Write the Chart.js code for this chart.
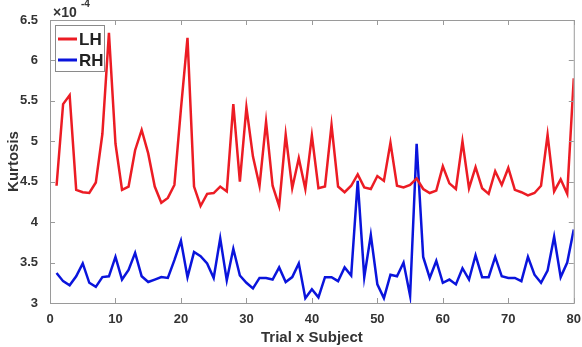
<!DOCTYPE html>
<html>
<head>
<meta charset="utf-8">
<script src="https://cdn.jsdelivr.net/npm/chart.js@4/dist/chart.umd.min.js"></script>
<style>
  html, body { margin: 0; padding: 0; background: #fff; }
  #wrap { width: 582px; height: 347px; position: relative; }
</style>
</head>
<body>
<div id="wrap"><canvas id="kurt"></canvas></div>
<script>
// data (values in units of 1e-4)
const trials = Array.from({ length: 80 }, (_, i) => i + 1);
const lhValues = [
  4.45, 5.46, 5.57, 4.40, 4.37, 4.36, 4.49, 5.09, 6.34, 4.97,
  4.40, 4.44, 4.89, 5.14, 4.85, 4.44, 4.24, 4.30, 4.46, 5.40,
  6.28, 4.44, 4.20, 4.35, 4.36, 4.44, 4.38, 5.46, 4.50, 5.42,
  4.81, 4.45, 5.24, 4.45, 4.20, 5.08, 4.42, 4.79, 4.41, 5.07,
  4.42, 4.44, 5.20, 4.44, 4.37, 4.45, 4.59, 4.43, 4.41, 4.57,
  4.51, 4.98, 4.45, 4.43, 4.46, 4.54, 4.41, 4.36, 4.39, 4.69,
  4.48, 4.41, 5.00, 4.42, 4.68, 4.42, 4.35, 4.63, 4.46, 4.67,
  4.40, 4.37, 4.33, 4.36, 4.45, 5.08, 4.38, 4.53, 4.35, 5.78
];
const rhValues = [
  3.37, 3.27, 3.22, 3.33, 3.49, 3.25, 3.20, 3.32, 3.33, 3.57,
  3.29, 3.41, 3.62, 3.33, 3.26, 3.29, 3.32, 3.31, 3.53, 3.77,
  3.32, 3.63, 3.58, 3.49, 3.31, 3.80, 3.28, 3.67, 3.34, 3.25,
  3.18, 3.31, 3.31, 3.29, 3.44, 3.26, 3.32, 3.49, 3.06, 3.17,
  3.07, 3.32, 3.32, 3.27, 3.44, 3.34, 4.51, 3.32, 3.84, 3.23,
  3.06, 3.35, 3.33, 3.50, 3.09, 4.97, 3.57, 3.31, 3.52, 3.25,
  3.29, 3.23, 3.43, 3.29, 3.59, 3.32, 3.32, 3.57, 3.33, 3.31,
  3.31, 3.27, 3.57, 3.35, 3.25, 3.40, 3.82, 3.32, 3.50, 3.91
];
const xTicks = [0, 10, 20, 30, 40, 50, 60, 70, 80];
const yTicks = [3, 3.5, 4, 4.5, 5, 5.5, 6, 6.5];

const FONT = "'Liberation Sans', Arial, sans-serif";
const TXT = "#333";
const RED = "#ec1c24";
const BLUE = "#0a14dc";

// MATLAB-style box, inward ticks, legend and exponent label
const matlabBox = {
  id: "matlabBox",
  afterDraw(chart) {
    const { ctx, chartArea: a, scales } = chart;
    const xs = scales.x, ys = scales.y;
    ctx.save();
    ctx.strokeStyle = "#9a9a9a";
    ctx.lineWidth = 1;
    ctx.strokeRect(a.left + 0.5, a.top + 0.5, a.right - a.left, a.bottom - a.top);
    ctx.beginPath();
    const tl = 5;
    xTicks.forEach(v => {
      const px = Math.round(xs.getPixelForValue(v)) + 0.5;
      ctx.moveTo(px, a.bottom); ctx.lineTo(px, a.bottom - tl);
      ctx.moveTo(px, a.top); ctx.lineTo(px, a.top + tl);
    });
    yTicks.forEach(v => {
      const py = Math.round(ys.getPixelForValue(v)) + 0.5;
      ctx.moveTo(a.left, py); ctx.lineTo(a.left + tl, py);
      ctx.moveTo(a.right, py); ctx.lineTo(a.right - tl, py);
    });
    ctx.stroke();

    // exponent (top partly cut off as in the original figure)
    ctx.fillStyle = TXT;
    ctx.font = "bold 14px " + FONT;
    ctx.textBaseline = "alphabetic";
    ctx.textAlign = "left";
    ctx.fillText("×10", a.left + 3, a.top - 3);
    ctx.font = "bold 10px " + FONT;
    ctx.fillText("-4", a.left + 31, a.top - 13);

    // legend
    const lx = a.left + 5, ly = a.top + 5, lw = 49, lh = 46;
    ctx.fillStyle = "#fff";
    ctx.fillRect(lx, ly, lw, lh);
    ctx.strokeStyle = "#8a8a8a";
    ctx.strokeRect(lx + 0.5, ly + 0.5, lw, lh);
    ctx.font = "bold 17px " + FONT;
    ctx.textBaseline = "middle";
    chart.data.datasets.forEach((ds, i) => {
      const y = ly + 14 + i * 21;
      ctx.strokeStyle = ds.borderColor;
      ctx.lineWidth = 3;
      ctx.beginPath();
      ctx.moveTo(lx + 3, y); ctx.lineTo(lx + 22, y);
      ctx.stroke();
      ctx.fillStyle = "#222";
      ctx.fillText(ds.label, lx + 24, y + 1);
    });
    ctx.restore();
  }
};

new Chart(document.getElementById("kurt"), {
  type: "line",
  data: {
    datasets: [
      { label: "LH", data: trials.map((t, i) => ({ x: t, y: lhValues[i] })),
        borderColor: RED, borderWidth: 2.5, pointRadius: 0, tension: 0 },
      { label: "RH", data: trials.map((t, i) => ({ x: t, y: rhValues[i] })),
        borderColor: BLUE, borderWidth: 2.5, pointRadius: 0, tension: 0 }
    ]
  },
  options: {
    responsive: true, maintainAspectRatio: false,
    animation: false,
    layout: { padding: { top: 20, right: 7, left: 0, bottom: 0 } },
    plugins: { legend: { display: false }, tooltip: { enabled: false } },
    scales: {
      x: {
        type: "linear", min: 0, max: 80,
        afterBuildTicks: s => { s.ticks = xTicks.map(v => ({ value: v })); },
        afterFit: s => { s.height = 44; },
        grid: { display: false },
        border: { display: false },
        ticks: { color: TXT, font: { family: FONT, size: 13, weight: "bold" }, padding: 1, maxRotation: 0,
                 callback: v => String(v) },
        title: { display: true, text: "Trial x Subject", color: TXT,
                 font: { family: FONT, size: 15, weight: "bold" }, padding: { top: 0, bottom: 0 } }
      },
      y: {
        min: 3, max: 6.5,
        afterBuildTicks: s => { s.ticks = yTicks.map(v => ({ value: v })); },
        afterFit: s => { s.width = 50; },
        grid: { display: false },
        border: { display: false },
        ticks: { color: TXT, font: { family: FONT, size: 13, weight: "bold" }, padding: 4,
                 callback: v => String(v) },
        title: { display: true, text: "Kurtosis", color: TXT,
                 font: { family: FONT, size: 15, weight: "bold" }, padding: { top: 5, bottom: 0 } }
      }
    }
  },
  plugins: [matlabBox]
});
</script>
</body>
</html>
